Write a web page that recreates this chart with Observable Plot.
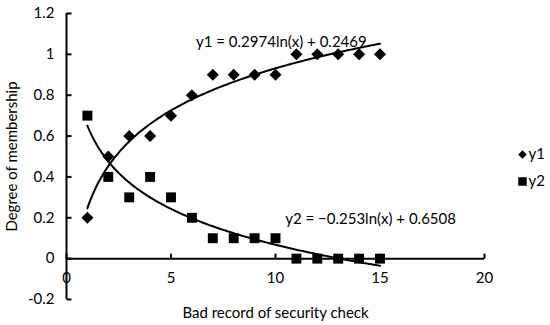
<!DOCTYPE html>
<html><head><meta charset="utf-8">
<script src="https://cdn.jsdelivr.net/npm/d3@7"></script>
<script src="https://cdn.jsdelivr.net/npm/@observablehq/plot@0.6"></script>
<style>html,body{margin:0;padding:0;background:#fff;}</style>
</head><body><div id="chart"></div>
<script>
const xs = [1, 2, 3, 4, 5, 6, 7, 8, 9, 10, 11, 12, 13, 14, 15];
const y1 = [0.2, 0.5, 0.6, 0.6, 0.7, 0.8, 0.9, 0.9, 0.9, 0.9, 1, 1, 1, 1, 1];
const y2 = [0.7, 0.4, 0.3, 0.4, 0.3, 0.2, 0.1, 0.1, 0.1, 0.1, 0, 0, 0, 0, 0];
const xTicks = [0, 5, 10, 15, 20];
const yTicks = [-0.2, 0, 0.2, 0.4, 0.6, 0.8, 1, 1.2];
const eq1 = "y1 = 0.2974ln(x) + 0.2469";
const eq2 = "y2 = \u22120.253ln(x) + 0.6508";
const seriesNames = ["y1", "y2"];

// least-squares logarithmic trendline fitted to the data
function logFit(x, y) {
  const L = x.map(Math.log);
  const mL = d3.mean(L), mY = d3.mean(y);
  const sxy = d3.sum(L, (l, i) => (l - mL) * (y[i] - mY));
  const sxx = d3.sum(L, l => (l - mL) ** 2);
  const a = sxy / sxx;
  return {a, b: mY - a * mL};
}
const f1 = logFit(xs, y1), f2 = logFit(xs, y2);
const cx = d3.range(1, 15.0001, 0.1);
const curve1 = cx.map(x => ({x, y: f1.a * Math.log(x) + f1.b}));
const curve2 = cx.map(x => ({x, y: f2.a * Math.log(x) + f2.b}));
const pts1 = xs.map((x, i) => ({x, y: y1[i]}));
const pts2 = xs.map((x, i) => ({x, y: y2[i]}));

// tick-mark symbols (short line segments)
const tickRight = {draw(ctx) { ctx.moveTo(0, 0); ctx.lineTo(5, 0); }};
const tickUp = {draw(ctx) { ctx.moveTo(0, 0); ctx.lineTo(0, -5); }};

const FS = 15;
const chart = Plot.plot({
  width: 550, height: 325,
  marginLeft: 66, marginRight: 66, marginTop: 13, marginBottom: 26,
  x: {domain: [0, 20], axis: null},
  y: {domain: [-0.2, 1.2], axis: null},
  style: {fontFamily: "Lato, 'Open Sans', sans-serif", fontSize: FS + "px", color: "#000", background: "#fff"},
  marks: [
    Plot.ruleX([0], {stroke: "#000", strokeWidth: 2}),
    Plot.ruleY([0], {stroke: "#000", strokeWidth: 2}),
    Plot.dot(yTicks, {x: 0, y: d => d, symbol: tickRight, fill: "none", stroke: "#000", strokeWidth: 2}),
    Plot.dot(xTicks, {x: d => d, y: 0, symbol: tickUp, fill: "none", stroke: "#000", strokeWidth: 2}),
    Plot.axisY({ticks: yTicks, tickSize: 0, tickPadding: 12, tickFormat: d => String(d), label: null, fontSize: FS}),
    Plot.text(xTicks, {x: d => d, y: 0, dy: 20, text: d => String(d), fontSize: FS}),
    Plot.text(["Degree of membership"], {frameAnchor: "left", dx: -54, rotate: -90, textAnchor: "middle", lineAnchor: "middle", fontSize: FS}),
    Plot.text(["Bad record of security check"], {frameAnchor: "bottom", dy: 14, textAnchor: "middle", lineAnchor: "middle", fontSize: FS}),
    Plot.line(curve1, {x: "x", y: "y", stroke: "#000", strokeWidth: 2}),
    Plot.line(curve2, {x: "x", y: "y", stroke: "#000", strokeWidth: 2}),
    Plot.dot(pts1, {x: "x", y: "y", symbol: "square", rotate: 45, r: 4.8, fill: "#000", stroke: "none"}),
    Plot.dot(pts2, {x: "x", y: "y", symbol: "square", r: 5.6, fill: "#000", stroke: "none"}),
    Plot.text([eq1], {x: 10.28, y: 1.06, textAnchor: "middle", fontSize: FS}),
    Plot.text([eq2], {x: 14.55, y: 0.195, textAnchor: "middle", fontSize: FS}),
    // legend
    Plot.dot([seriesNames[0]], {frameAnchor: "top-right", dx: 38, dy: 141, symbol: "square", rotate: 45, r: 3.4, fill: "#000", stroke: "none"}),
    Plot.text([seriesNames[0]], {frameAnchor: "top-right", dx: 44, dy: 141, textAnchor: "start", lineAnchor: "middle", fontSize: FS}),
    Plot.dot([seriesNames[1]], {frameAnchor: "top-right", dx: 38, dy: 168, symbol: "square", r: 4.8, fill: "#000", stroke: "none"}),
    Plot.text([seriesNames[1]], {frameAnchor: "top-right", dx: 44, dy: 168, textAnchor: "start", lineAnchor: "middle", fontSize: FS})
  ]
});
document.getElementById("chart").appendChild(chart);
</script>
</body></html>
